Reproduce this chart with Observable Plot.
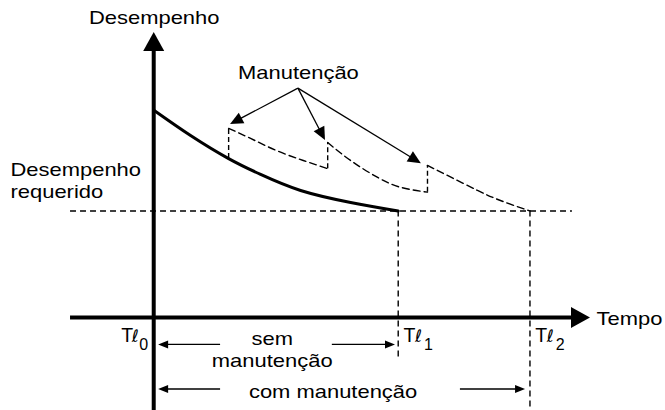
<!DOCTYPE html>
<html><head><meta charset="utf-8">
<script src="https://cdn.jsdelivr.net/npm/d3@7"></script>
<script src="https://cdn.jsdelivr.net/npm/@observablehq/plot@0.6"></script>
<style>html,body{margin:0;padding:0;background:#fff;} svg{display:block;}</style>
</head><body><div id="chart"></div>
<script>
// ---------- data (time units, performance units) ----------
const yTitle = "Desempenho";
const xTitle = "Tempo";
const reqLabel = "Desempenho\nrequerido";
const maintLabel = "Manutenção";
const semLabel = "sem\nmanutenção";
const comLabel = "com manutenção";
const timeLabelT = "T";
const timeLabelL = "ℓ";
const timeSubscripts = ["0", "1", "2"];
const timePoints = [0, 10, 15.4];
const requiredPerformance = 5;

// performance without maintenance (solid)
const semT = [0, 1.49, 3.05, 4.36, 6.0, 8.05, 10];
const semP = [9.7, 8.53, 7.45, 6.71, 5.96, 5.4, 5.0];
// performance with maintenance (three dashed pieces)
const com1T = [3.05, 3.95, 5.0, 6.11, 7.11];
const com1P = [8.86, 8.39, 7.83, 7.36, 6.98];
const com2T = [7.11, 8.05, 9.14, 10.09, 11.2];
const com2P = [8.2, 7.36, 6.58, 6.11, 5.88];
const com3T = [11.2, 12.14, 13.25, 14.19, 15.4];
const com3P = [7.13, 6.59, 5.96, 5.49, 5.0];

// maintenance callout: common origin and arrow tips
const maintOrigin = [5.91, 10.72];
const maintTipT = [3.13, 7.02, 10.95];
const maintTipP = [9.04, 8.29, 7.21];

// axes extents
const xAxisT = [-3.43, 17.88];
const yAxisP = [-4.32, 13.34];
const reqLineT = [-3.43, 17.14];
const dropBottoms = [-1.99, -4.32];

// interval arrows (rows below the axis)
const semRow = -1.26, comRow = -3.34;
const semArrowTails = [2.72, 7.3], semArrowTips = [0.18, 9.89];
const comArrowTails = [2.72, 12.55], comArrowTips = [0.18, 15.22];

// ---------- derived tables ----------
const zip = (T, P) => T.map((t, i) => ({t, p: P[i]}));
const sem = zip(semT, semP);
const com = [
  ...zip(com1T, com1P).map(d => ({...d, k: 1})),
  ...zip(com2T, com2P).map(d => ({...d, k: 2})),
  ...zip(com3T, com3P).map(d => ({...d, k: 3}))
];
const solidAt = (t) => semP[semT.indexOf(t)];
const jumps = [
  {t: com1T[0], p1: solidAt(com1T[0]), p2: com1P[0]},
  {t: com2T[0], p1: com1P[com1P.length - 1], p2: com2P[0]},
  {t: com3T[0], p1: com2P[com2P.length - 1], p2: com3P[0]}
];
const drops = [
  {t: timePoints[1], p1: requiredPerformance, p2: dropBottoms[0]},
  {t: timePoints[2], p1: requiredPerformance, p2: dropBottoms[1]}
];

const axisArrows = [
  {x1: xAxisT[0], y1: 0, x2: xAxisT[1], y2: 0},
  {x1: 0, y1: yAxisP[0], x2: 0, y2: yAxisP[1]}
];
const maintArrows = maintTipT.map((t, i) => ({x1: maintOrigin[0], y1: maintOrigin[1], x2: t, y2: maintTipP[i]}));
const spanArrows = [
  ...semArrowTails.map((t, i) => ({x1: t, y1: semRow, x2: semArrowTips[i], y2: semRow})),
  ...comArrowTails.map((t, i) => ({x1: t, y1: comRow, x2: comArrowTips[i], y2: comRow}))
];

// arrow mark drawn through the plot's scales (filled triangular heads)
function arrows(data, {strokeWidth, headLength, headWidth}) {
  return (index, scales) => {
    const g = d3.create("svg:g");
    for (const a of data) {
      const x1 = scales.x(a.x1), y1 = scales.y(a.y1), x2 = scales.x(a.x2), y2 = scales.y(a.y2);
      const dx = x2 - x1, dy = y2 - y1, len = Math.hypot(dx, dy);
      const ux = dx / len, uy = dy / len;
      const bx = x2 - ux * headLength, by = y2 - uy * headLength;
      g.append("line")
        .attr("x1", x1).attr("y1", y1)
        .attr("x2", bx + ux * 1).attr("y2", by + uy * 1)
        .attr("stroke", "black").attr("stroke-width", strokeWidth);
      g.append("path")
        .attr("d", `M${x2},${y2}L${bx - uy * headWidth},${by + ux * headWidth}L${bx + uy * headWidth},${by - ux * headWidth}Z`)
        .attr("fill", "black");
    }
    return g.node();
  };
}

const dash = "6,4";
const FONT = "Liberation Sans, Arial, Helvetica, sans-serif";

const chart = Plot.plot({
  width: 665,
  height: 410,
  margin: 0,
  x: {domain: [-6.3, 20.955], axis: null},
  y: {domain: [-4.322, 14.836], axis: null},
  style: {fontFamily: FONT, background: "white", color: "black"},
  marks: [
    // required performance line
    Plot.ruleY([requiredPerformance], {x1: reqLineT[0], x2: reqLineT[1], stroke: "black", strokeWidth: 1.4, strokeDasharray: dash}),
    // drop lines at Tl1, Tl2
    Plot.ruleX(drops, {x: "t", y1: "p1", y2: "p2", stroke: "black", strokeWidth: 1.4, strokeDasharray: dash}),
    // maintenance jumps
    Plot.ruleX(jumps, {x: "t", y1: "p1", y2: "p2", stroke: "black", strokeWidth: 1.4, strokeDasharray: "5,3"}),
    // with maintenance
    Plot.line(com, {x: "t", y: "p", z: "k", curve: "natural", stroke: "black", strokeWidth: 1.4, strokeDasharray: "7,4"}),
    // without maintenance
    Plot.line(sem, {x: "t", y: "p", curve: "natural", stroke: "black", strokeWidth: 3}),
    // axes
    arrows(axisArrows, {strokeWidth: 4, headLength: 19, headWidth: 10.5}),
    arrows(maintArrows, {strokeWidth: 1.3, headLength: 13, headWidth: 6}),
    arrows(spanArrows, {strokeWidth: 1.3, headLength: 10, headWidth: 4}),
    // texts
    Plot.text([yTitle], {x: 0, y: yAxisP[1], dy: -9, text: d => d, textAnchor: "middle", lineAnchor: "bottom", fontSize: 18}),
    Plot.text([xTitle], {x: xAxisT[1], y: 0, dx: 6, dy: 6.5, text: d => d, textAnchor: "start", lineAnchor: "bottom", fontSize: 18}),
    Plot.text([reqLabel], {frameAnchor: "left", y: requiredPerformance, dx: 10, dy: -13.5, text: d => d, textAnchor: "start", lineAnchor: "bottom", lineHeight: 1.22, fontSize: 18}),
    Plot.text([maintLabel], {x: maintOrigin[0], y: maintOrigin[1], dy: -10, text: d => d, textAnchor: "middle", lineAnchor: "bottom", fontSize: 18}),
    Plot.text([semLabel], {x: (timePoints[0] + timePoints[1]) / 2, y: semRow, dx: -4, dy: 22, text: d => d, textAnchor: "middle", lineAnchor: "bottom", lineHeight: 1.22, fontSize: 18}),
    Plot.text([comLabel], {x: (timePoints[0] + timePoints[2]) / 2, y: comRow, dx: -9, dy: 9, text: d => d, textAnchor: "middle", lineAnchor: "bottom", fontSize: 18}),
    // time labels: T, script ell, subscript
    Plot.text([timePoints[0]], {x: d => d, y: 0, dx: -33, dy: 24, text: () => timeLabelT, textAnchor: "start", lineAnchor: "bottom", fontSize: 19.5}),
    Plot.text([timePoints[0]], {x: d => d, y: 0, dx: -22.5, dy: 24, text: () => timeLabelL, textAnchor: "start", lineAnchor: "bottom", fontSize: 17, fontFamily: "DejaVu Sans", fontStyle: "italic"}),
    Plot.text([timePoints[0]], {x: d => d, y: 0, dx: -15, dy: 32, text: () => timeSubscripts[0], textAnchor: "start", lineAnchor: "bottom", fontSize: 16}),
    Plot.text(timePoints.slice(1), {x: d => d, y: 0, dx: 5.3, dy: 24, text: () => timeLabelT, textAnchor: "start", lineAnchor: "bottom", fontSize: 19.5}),
    Plot.text(timePoints.slice(1), {x: d => d, y: 0, dx: 16.8, dy: 24, text: () => timeLabelL, textAnchor: "start", lineAnchor: "bottom", fontSize: 17, fontFamily: "DejaVu Sans", fontStyle: "italic"}),
    Plot.text(timePoints.slice(1), {x: d => d, y: 0, dx: 25.8, dy: 32, text: (d, i) => timeSubscripts[i + 1], textAnchor: "start", lineAnchor: "bottom", fontSize: 16})
  ]
});

// the reference lettering is horizontally wide: stretch the 18px labels
chart.querySelectorAll('g[font-size="18"] text').forEach(t => {
  t.setAttribute("transform", (t.getAttribute("transform") || "") + " scale(1.22,1)");
});
document.getElementById("chart").appendChild(chart);
</script>
</body></html>
